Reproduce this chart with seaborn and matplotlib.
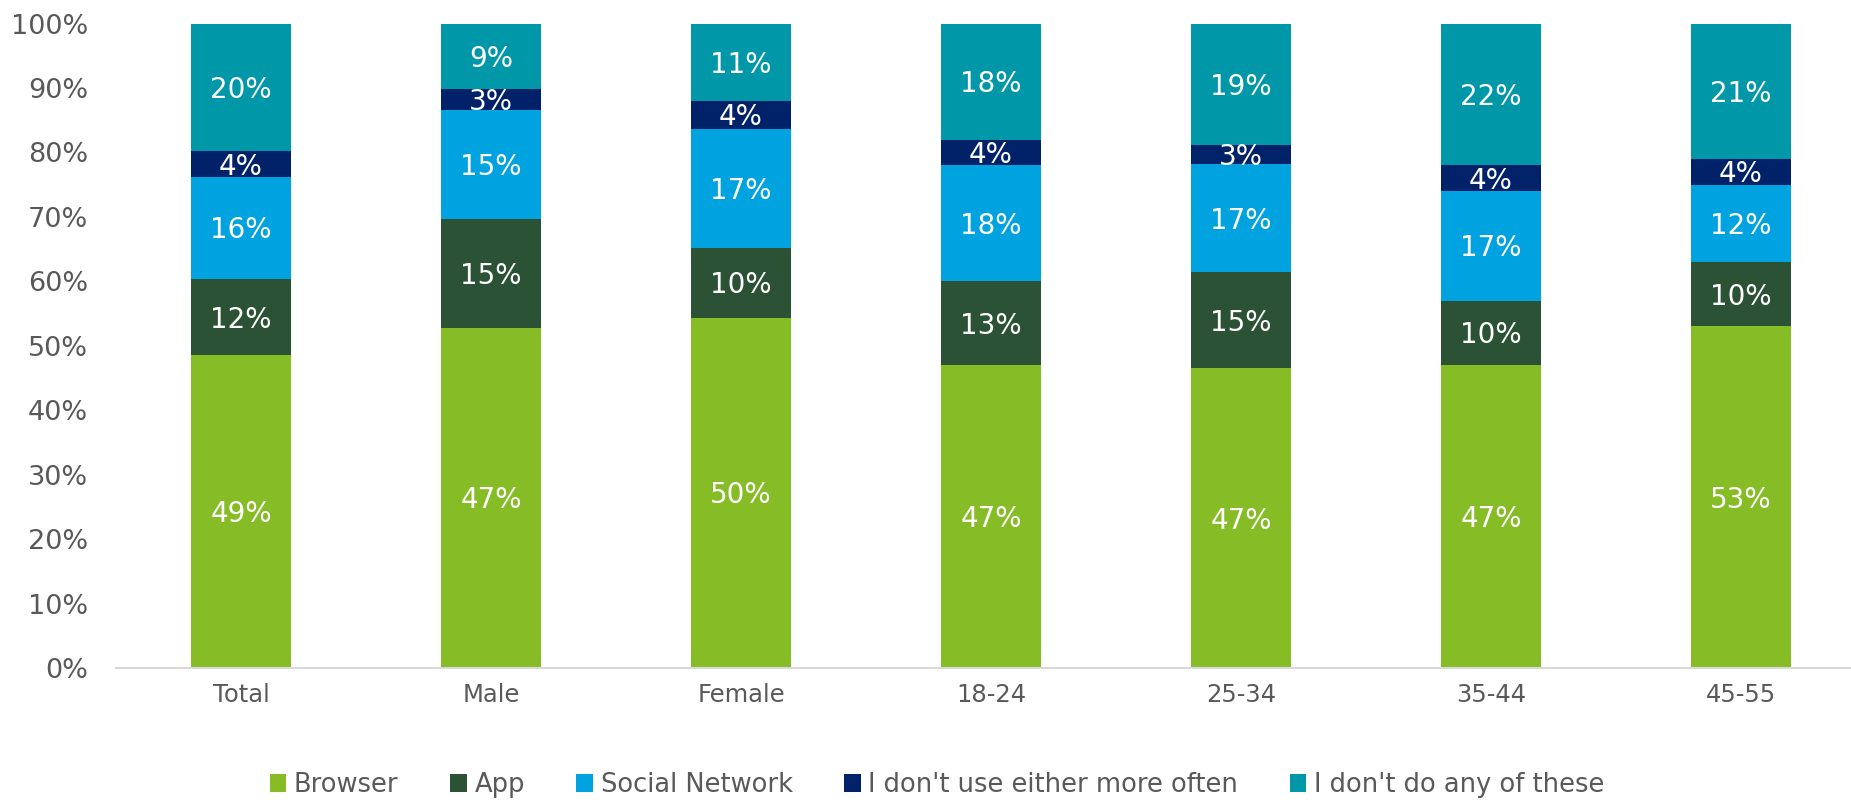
import numpy as np
import pandas as pd
import matplotlib
matplotlib.use("Agg")
import matplotlib.pyplot as plt
import seaborn as sns
from matplotlib.patches import Patch

groups = ["Total", "Male", "Female", "18-24", "25-34", "35-44", "45-55"]
series = ["Browser", "App", "Social Network",
          "I don't use either more often", "I don't do any of these"]
browser = [49, 47, 50, 47, 47, 47, 53]
app = [12, 15, 10, 13, 15, 10, 10]
social = [16, 15, 17, 18, 17, 17, 12]
neither = [4, 3, 4, 4, 3, 4, 4]
none_of_these = [20, 9, 11, 18, 19, 22, 21]
colors = ["#86BC25", "#2B5234", "#00A3E0", "#012169", "#0097A9"]

raw = np.array([browser, app, social, neither, none_of_these], dtype=float)
share = raw / raw.sum(axis=0) * 100  # 100% stacked
cum = np.cumsum(share, axis=0)

sns.set_theme(style="white")
plt.rcParams["font.family"] = ["DejaVu Sans"]

fig = plt.figure(figsize=(18.51, 8), dpi=100)
ax = fig.add_axes([116 / 1851, 132 / 800, 1750 / 1851, 644.4 / 800])

# draw from the top segment down so each cumulative bar overlaps the next
for i in range(len(series) - 1, -1, -1):
    df = pd.DataFrame({"group": groups, "value": cum[i]})
    sns.barplot(data=df, x="group", y="value", color=colors[i],
                width=0.4, saturation=1, ax=ax, edgecolor="none")

for i in range(len(series)):
    bottom = cum[i] - share[i]
    for j in range(len(groups)):
        ax.text(j, bottom[j] + share[i][j] / 2 - 0.4, f"{int(raw[i][j])}%",
                ha="center", va="center", color="white", fontsize=20)

ax.set_xlim(-0.5, 6.5)
ax.set_ylim(0, 100)
ax.set_yticks(np.arange(0, 101, 10))
ax.set_yticklabels([f"{v}%" for v in range(0, 101, 10)])
ax.set_xlabel("")
ax.set_ylabel("")
ax.tick_params(axis="y", length=0, pad=20, labelsize=19.5, labelcolor="#595959")
ax.tick_params(axis="x", length=0, pad=11, labelsize=17.5, labelcolor="#595959")
for s in ["top", "right", "left"]:
    ax.spines[s].set_visible(False)
ax.spines["bottom"].set_color("#D9D9D9")
ax.spines["bottom"].set_linewidth(1.5)
ax.grid(False)

handles = [Patch(facecolor=c, edgecolor="none") for c in colors]
fig.legend(handles, series, loc="center", bbox_to_anchor=(937 / 1851, 1 - 785 / 800),
           ncol=5, frameon=False, fontsize=18.5, labelcolor="#595959",
           handlelength=0.65, handleheight=0.65, handletextpad=0.3,
           columnspacing=2.0)

plt.savefig("out.png", dpi=100)
